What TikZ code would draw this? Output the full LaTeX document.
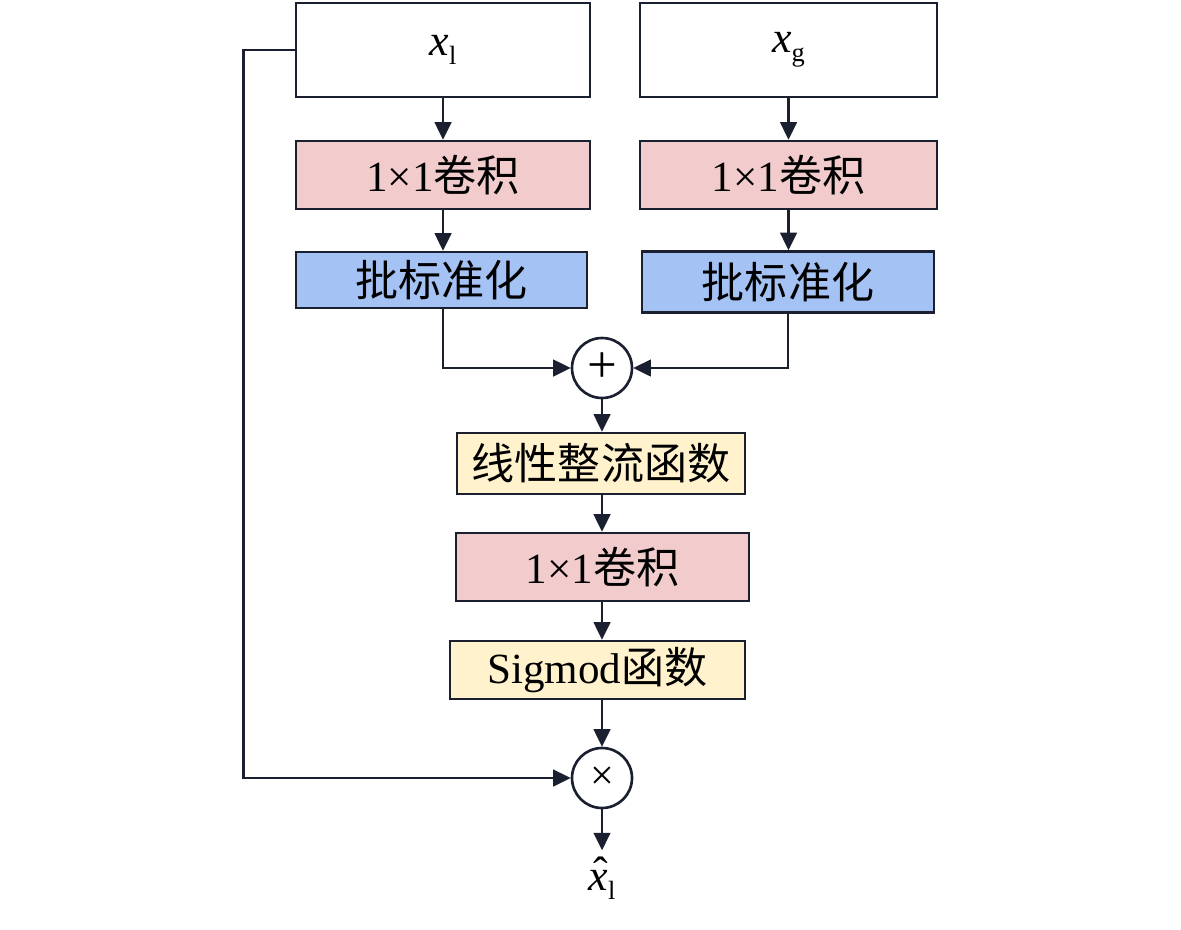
\documentclass[tikz,border=0pt]{standalone}
\usepackage{fontspec}
\setmainfont{Liberation Serif}
\newfontfamily\cjk{Noto Sans CJK SC}
\usetikzlibrary{arrows.meta}
\definecolor{lineDark}{RGB}{26,32,48}
\definecolor{convPink}{RGB}{242,204,204}
\definecolor{bnBlue}{RGB}{164,194,244}
\definecolor{actYellow}{RGB}{255,242,204}
\newcommand{\subl}[1]{\raisebox{-5pt}{\fontsize{15}{17}\selectfont #1}}

\begin{document}
\begin{tikzpicture}[x=0.2mm,y=-0.2mm,
	>={Triangle[length=10pt,width=9.5pt]},
	box/.style={draw=lineDark,line width=1.5pt,minimum height=#1,inner sep=0pt,
		font=\fontsize{24.5}{28}\selectfont},
	op/.style={circle,draw=lineDark,line width=1.5pt,minimum size=60*0.2mm,inner sep=0pt},
	link/.style={draw=lineDark,line width=1.4pt,->}]
	\useasboundingbox (0,0) rectangle (1181,929);
	% inputs
	\node[box=94*0.2mm,minimum width=294*0.2mm] (xl) at (443,50) {\fontsize{25}{28}\selectfont\textit{x}\subl{l}};
	\node[box=94*0.2mm,minimum width=297*0.2mm] (xg) at (788.5,50) {\fontsize{25}{28}\selectfont\textit{x}\subl{g}};
	% left branch
	\node[box=68*0.2mm,minimum width=294*0.2mm,fill=convPink] (convl) at (443,175) {1×1{\cjk 卷积}};
	\node[box=56*0.2mm,minimum width=291*0.2mm,fill=bnBlue] (bnl) at (441.5,280) {\cjk 批标准化};
	% right branch
	\node[box=68*0.2mm,minimum width=297*0.2mm,fill=convPink] (convg) at (788.5,175) {1×1{\cjk 卷积}};
	\node[box=61*0.2mm,minimum width=292*0.2mm,fill=bnBlue] (bng) at (788,282) {\cjk 批标准化};
	% merge
	\node[op,font=\fontsize{30}{32}\selectfont] (plus) at (602,368) {+};
	\node[box=61*0.2mm,minimum width=288*0.2mm,fill=actYellow] (relu) at (601,463.5) {\cjk 线性整流函数};
	\node[box=68*0.2mm,minimum width=293*0.2mm,fill=convPink] (convm) at (602.5,567) {1×1{\cjk 卷积}};
	\node[box=58*0.2mm,minimum width=295*0.2mm,fill=actYellow] (sig) at (597.5,670) {Sigmod{\cjk 函数}};
	\node[op,font=\fontsize{24}{26}\selectfont] (times) at (602,778) {×};
	\node[font=\fontsize{25}{28}\selectfont] (out) at (602,878) {\textit{x}\llap{\raisebox{2pt}{ˆ}}\subl{l}};
	% arrows
	\draw[link] (xl) -- (convl);
	\draw[link] (convl) -- (bnl.north -| convl.south);
	\draw[link] (xg) -- (convg);
	\draw[link] (convg) -- (bng.north -| convg.south);
	\draw[link] (bnl.south -| convl.south) |- (plus.west);
	\draw[link] (bng.south) |- (plus.east);
	\draw[link] (plus) -- (relu.north -| plus.south);
	\draw[link] (relu.south -| plus.south) -- (convm.north -| plus.south);
	\draw[link] (convm.south -| plus.south) -- (sig.north -| plus.south);
	\draw[link] (sig.south -| plus.south) -- (times);
	\draw[link] (times) -- (out);
	\draw[link] (xl.west) -- ++(-51,0) |- (times.west);
\end{tikzpicture}
\end{document}
